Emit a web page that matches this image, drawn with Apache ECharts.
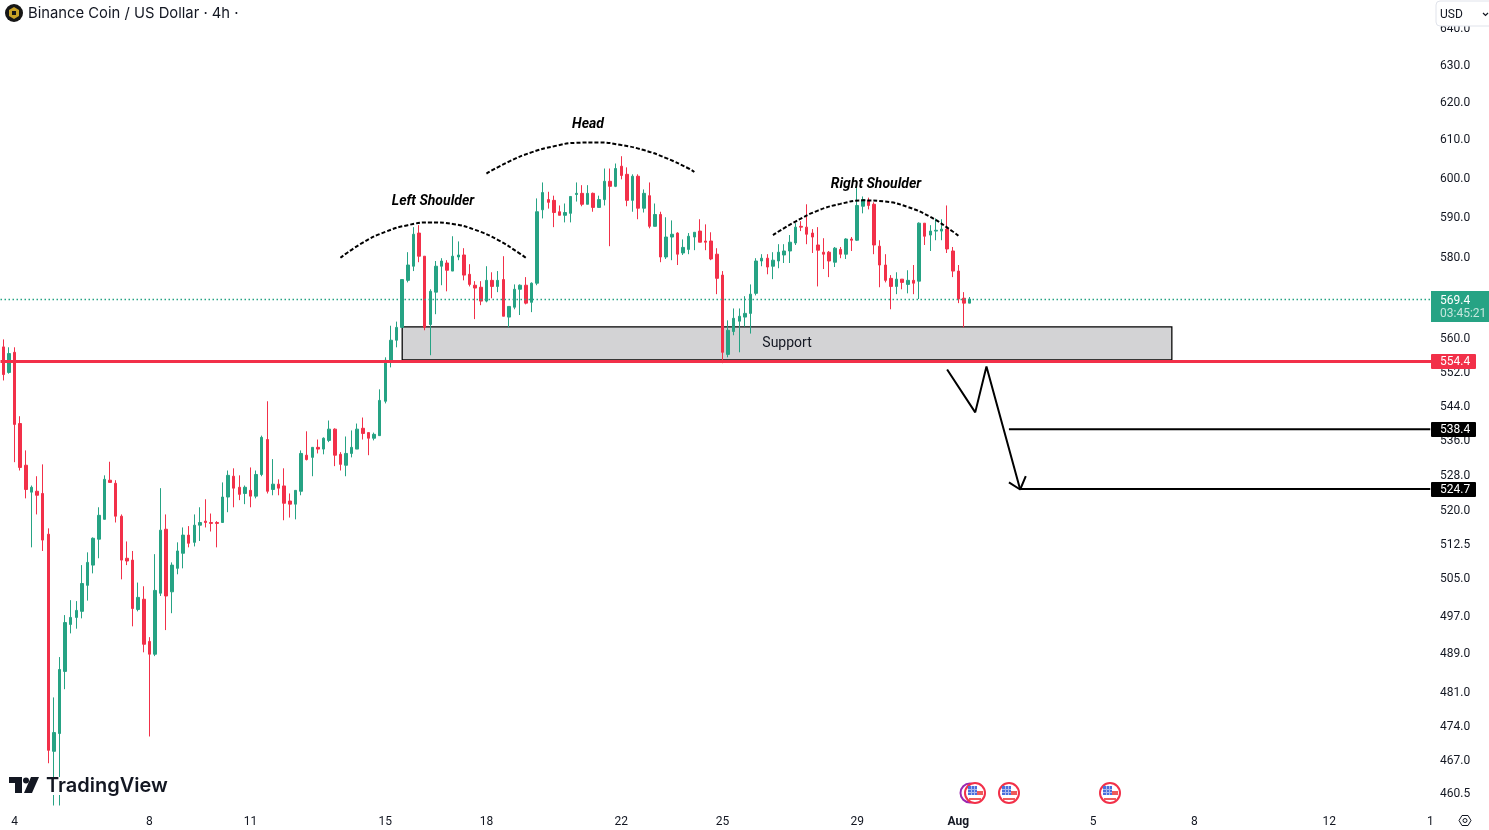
<!DOCTYPE html>
<html>
<head>
<meta charset="utf-8">
<title>Binance Coin / US Dollar</title>
<style>
  html, body { margin: 0; padding: 0; background: #fff; }
  #chart { width: 1489px; height: 830px; }
</style>
<script src="https://cdn.jsdelivr.net/npm/echarts@6/dist/echarts.min.js"></script>
</head>
<body>
<div id="chart"></div>
<script>
  // 4h candles
  var opens = [
    557.8,551.7,556.5,539.7,530.1,524.0,524.2,523.7,514.6,468.7,
    472.3,485.1,495.0,496.5,497.8,503.4,507.8,513.5,517.9,526.7,
    526.0,518.6,509.3,508.9,498.2,500.4,491.4,488.7,501.7,515.7,
    502.0,507.1,510.4,514.4,512.8,516.6,517.5,517.2,517.2,517.2,
    522.9,527.6,525.1,523.7,524.4,523.1,528.0,536.0,524.6,525.8,
    525.4,522.0,521.3,524.2,532.4,531.9,534.2,533.8,535.8,538.4,
    532.6,530.1,532.8,533.8,538.6,537.6,536.3,536.9,544.9,554.1,
    559.4,562.5,574.0,577.5,585.8,580.0,563.2,571.1,577.5,578.3,
    576.3,579.8,580.3,575.5,572.8,572.3,568.9,574.0,572.5,574.2,
    565.0,567.4,571.8,572.8,568.6,573.3,591.7,594.3,594.1,591.2,
    590.3,590.8,595.6,595.9,593.1,595.9,592.3,594.3,599.0,597.7,
    602.9,600.8,594.1,600.3,592.1,595.3,587.5,590.5,579.8,584.8,
    585.8,580.8,581.7,584.8,586.3,583.8,583.8,580.5,575.3,556.0,
    561.5,564.0,565.0,565.9,570.8,578.8,579.5,577.5,578.8,580.3,
    581.3,583.3,587.5,587.3,585.8,582.8,581.0,581.0,578.5,581.7,
    580.5,584.3,584.0,592.6,594.1,593.1,582.5,577.8,574.5,572.5,
    574.3,573.0,574.0,573.8,588.3,585.3,586.3,586.3,586.8,581.3,
    576.3,569.6,568.4
  ];
  var closes = [
    551.2,556.2,539.5,529.6,524.6,525.1,523.3,513.3,468.9,472.5,
    485.5,495.4,496.5,498.0,503.8,508.4,513.7,518.8,526.9,526.2,
    518.6,508.9,508.7,498.4,500.8,490.8,488.7,502.3,515.5,501.1,
    507.8,510.9,514.4,512.6,516.6,517.2,517.2,517.0,517.0,522.9,
    527.8,524.9,523.5,525.1,523.1,528.0,536.5,524.2,525.8,524.9,
    521.5,521.3,524.4,532.8,531.4,534.2,533.8,536.3,538.4,532.4,
    530.3,532.8,534.2,538.4,537.4,536.3,537.2,545.1,554.6,559.4,
    562.5,574.2,577.8,585.5,580.0,562.5,571.3,577.5,578.8,576.5,
    580.0,580.3,575.3,573.0,572.1,568.9,574.0,572.5,574.0,565.2,
    567.6,571.8,572.8,568.4,573.3,591.2,596.1,593.6,591.0,590.3,
    591.0,595.1,595.9,593.1,595.9,592.3,594.3,599.0,597.7,602.3,
    600.5,594.1,600.3,592.1,595.9,587.5,590.5,579.8,584.8,585.5,
    580.5,582.2,585.0,586.0,583.5,583.5,579.3,574.5,556.5,561.8,
    564.7,565.2,565.9,570.6,578.8,579.5,577.3,579.0,581.0,581.3,
    583.5,587.3,587.3,585.5,584.8,581.5,580.5,578.8,582.0,580.5,
    584.3,584.0,592.8,594.3,592.8,582.8,577.8,574.0,572.5,574.3,
    573.5,574.0,573.3,588.3,585.0,586.3,586.5,586.8,581.8,576.3,
    569.4,568.4,569.4
  ];
  var lows = [
    549.8,551.4,530.8,528.9,522.6,511.7,519.0,510.9,466.3,457.9,
    457.9,481.4,493.1,494.1,496.3,500.1,506.0,509.3,517.9,526.2,
    517.2,504.7,507.8,494.6,497.8,489.1,471.7,488.3,501.1,493.8,
    497.4,505.8,507.1,511.7,511.9,513.1,516.1,515.2,511.7,517.2,
    519.5,520.6,522.2,521.3,520.6,522.6,527.6,523.7,523.3,523.3,
    517.7,518.3,517.9,523.3,531.2,527.6,532.8,532.6,535.4,529.9,
    528.9,527.6,531.9,533.8,536.0,532.4,535.8,536.9,544.4,552.9,
    557.7,562.5,573.5,576.3,578.5,561.8,555.8,565.7,572.8,571.3,
    576.3,579.0,574.0,572.5,564.5,567.9,568.6,569.6,571.1,565.2,
    562.5,566.9,565.5,568.1,566.2,572.8,589.5,592.0,587.3,590.3,
    588.5,588.5,593.8,592.6,593.1,591.2,592.3,592.8,582.5,597.5,
    599.5,592.6,591.2,589.3,591.0,587.0,587.5,578.5,579.3,579.0,
    577.8,580.3,580.5,581.5,583.5,581.5,579.0,570.6,553.9,555.3,
    560.6,556.5,562.7,561.0,570.3,577.5,575.5,574.3,577.0,578.3,
    578.3,582.8,586.3,583.0,580.8,572.5,576.8,574.8,577.3,579.5,
    579.3,581.3,583.8,590.8,591.8,580.5,572.3,573.5,566.9,570.6,
    571.8,570.8,570.6,569.4,582.8,581.3,584.0,584.0,580.8,574.8,
    568.4,562.5,568.4
  ];
  var highs = [
    559.6,557.7,557.7,541.4,533.5,525.5,527.6,530.3,515.9,479.7,
    488.1,497.0,500.2,500.0,507.8,510.6,513.9,520.6,527.8,530.9,
    526.7,519.0,513.0,510.9,504.0,503.2,492.3,510.2,524.9,519.0,
    508.4,512.8,516.1,516.4,519.0,520.6,522.4,519.2,517.5,526.2,
    528.9,529.4,527.8,525.5,529.6,528.9,536.9,544.9,531.5,526.9,
    529.4,523.7,524.4,533.5,537.9,534.2,536.0,536.5,540.4,538.6,
    533.1,536.7,538.1,539.7,541.1,537.6,537.6,547.7,555.3,562.9,
    563.9,574.3,581.0,587.3,587.8,580.0,571.8,578.8,579.5,579.0,
    585.0,583.7,582.0,578.0,573.8,573.8,577.5,576.0,576.3,580.0,
    567.6,573.0,573.0,574.8,573.5,594.6,598.7,596.3,595.3,592.8,
    593.3,595.1,598.7,598.0,598.0,596.1,595.3,602.3,602.3,603.6,
    605.5,602.6,600.8,600.8,596.9,598.7,593.3,591.2,589.8,589.0,
    586.0,584.2,585.8,586.0,589.3,588.0,586.0,582.0,576.3,564.2,
    567.1,567.1,570.1,573.0,579.5,580.5,580.5,581.0,583.0,583.0,
    585.3,588.3,588.8,593.1,586.8,587.3,584.5,581.3,582.3,582.3,
    584.5,584.8,597.5,595.1,594.8,593.6,584.0,580.5,575.3,576.0,
    574.3,576.5,577.8,588.5,588.3,587.8,589.5,589.3,592.8,582.3,
    577.8,571.1,569.9
  ];

  var tickIndex = [2, 26, 44, 68, 86, 110, 128, 152, 170, 194, 212, 236, 254];
  var tickLabels = ['4', '8', '11', '15', '18', '22', '25', '29', 'Aug', '5', '8', '12', '1'];
  var priceTicks = [640, 630, 620, 610, 600, 590, 580, 560, 552, 544, 536, 528, 520, 512.5, 505, 497, 489, 481, 474, 467, 460.5];
  var slotCount = 255;

  var lastPrice = 569.4;
  var supportLine = 554.4;
  var target1 = 538.4;
  var target2 = 524.7;
  var supportTop = 562.6;
  var supportBottom = 554.7;
  var supportFrom = 71;
  var supportTo = 208;

  // hand drawn arcs and the arrow, as [candle slot, price]
  var leftShoulderX = [60, 64, 68, 72, 76, 80, 84, 88, 92, 93];
  var leftShoulderY = [579.6, 583.4, 586.1, 587.8, 588.5, 588.1, 586.6, 584.1, 580.6, 579.6];
  var headX = [86, 90, 94, 98, 102, 106, 110, 114, 118, 122, 123];
  var headY = [601, 604.1, 606.5, 608.1, 609, 609.1, 608.4, 607.1, 605, 602.3, 601.4];
  var rightShoulderX = [137, 141, 145, 149, 153, 157, 161, 165, 169, 170];
  var rightShoulderY = [585.3, 588.7, 591.5, 593.2, 594.1, 593.8, 592.4, 589.9, 586.2, 585.1];
  var arrowX = [168, 173, 175, 181];
  var arrowY = [552.4, 542.3, 553.1, 524.6];
  var arrowHeadX = [179, 181, 182];
  var arrowHeadY = [526.2, 524.6, 527.6];

  var categories = [];
  for (var i = 0; i < slotCount; i++) categories.push(String(i));

  var candles = opens.map(function (o, k) {
    return [o, closes[k], lows[k], highs[k]];
  });

  function zip(xs, ys) {
    return xs.map(function (x, k) { return [x, ys[k]]; });
  }

  function drawn(points, width, dash, smooth) {
    return {
      type: 'line',
      data: points,
      smooth: smooth,
      showSymbol: false,
      silent: true,
      z: 6,
      lineStyle: { color: '#000', width: width, type: dash || 'solid', cap: 'butt' }
    };
  }

  var chart = echarts.init(document.getElementById('chart'));

  chart.setOption({
    animation: false,
    backgroundColor: '#fff',
    textStyle: { fontFamily: 'Roboto' },
    grid: { left: 0.5, top: 0, width: slotCount * 5.618, height: 806 },
    xAxis: {
      type: 'category',
      data: categories,
      boundaryGap: true,
      axisLine: { show: false },
      axisTick: { show: false },
      splitLine: { show: false },
      axisLabel: {
        interval: 0,
        margin: 10,
        fontSize: 12,
        color: '#131722',
        formatter: function (v) {
          var k = tickIndex.indexOf(Number(v));
          if (k < 0) return '';
          return tickLabels[k] === 'Aug' ? '{b|Aug}' : tickLabels[k];
        },
        rich: { b: { fontWeight: 'bold', fontSize: 12, color: '#131722' } }
      }
    },
    yAxis: {
      type: 'log',
      logBase: Math.E,
      position: 'right',
      min: 457.8,
      max: 647.6,
      axisLine: { show: false },
      axisTick: { show: false },
      splitLine: { show: false },
      axisLabel: {
        customValues: priceTicks,
        margin: 7,
        fontSize: 12,
        color: '#131722',
        formatter: function (v) { return '{t|' + Number(v).toFixed(1) + '}'; },
        rich: { t: { fontSize: 12, color: '#131722', padding: [3, 0, 0, 0] } }
      }
    },
    series: [
      {
        type: 'candlestick',
        data: candles,
        barWidth: 3,
        z: 3,
        itemStyle: {
          color: '#26a384',
          color0: '#f23049',
          borderColor: '#26a384',
          borderColor0: '#f23049',
          borderWidth: 1
        },
        markArea: {
          silent: true,
          z: 1,
          itemStyle: { color: '#d3d3d5', borderColor: '#000', borderWidth: 1.25 },
          label: {
            show: true,
            position: 'inside',
            color: '#131722',
            fontSize: 14,
            formatter: 'Support'
          },
          data: [[{ coord: [supportFrom, supportTop] }, { coord: [supportTo, supportBottom] }]]
        }
      },
      {
        type: 'line',
        data: [],
        silent: true,
        z: 5,
        markLine: {
          silent: true,
          symbol: 'none',
          label: { show: false },
          data: [
            { yAxis: lastPrice, lineStyle: { color: '#26a384', width: 1.4, type: [1.5, 2.5] } },
            { yAxis: supportLine, lineStyle: { color: '#f23049', width: 3, type: 'solid' } }
          ]
        }
      },
      drawn(zip(leftShoulderX, leftShoulderY), 2, [4, 2], true),
      drawn(zip(headX, headY), 2, [4, 2], true),
      drawn(zip(rightShoulderX, rightShoulderY), 2, [4, 2], true),
      drawn(zip(arrowX, arrowY), 2, null, false),
      drawn(zip(arrowHeadX, arrowHeadY), 2, null, false),
      drawn([[179, target1], [slotCount - 1, target1]], 2, null, false),
      drawn([[181, target2], [slotCount - 1, target2]], 2, null, false)
    ]
  });

  // price tags sit on the scale at the price they belong to
  function priceY(p) {
    return chart.convertToPixel({ yAxisIndex: 0 }, p);
  }

  function tag(price, color) {
    var y = Math.round(priceY(price));
    return [
      { type: 'rect', z: 20, shape: { x: 1431, y: y - 7, width: 45, height: 15, r: 1 }, style: { fill: color } },
      { type: 'text', z: 21, style: { x: 1440, y: y + 1, text: price.toFixed(1), fill: '#fff', font: '12px Roboto', textVerticalAlign: 'middle' } }
    ];
  }

  function flag(cx) {
    var cy = 793;
    return [
      { type: 'circle', z: 12, shape: { cx: cx, cy: cy, r: 10 }, style: { fill: '#fff', stroke: '#f23049', lineWidth: 2 } },
      { type: 'rect', z: 13, shape: { x: cx + 1, y: cy - 2, width: 7, height: 4 }, style: { fill: '#ef5a5a' } },
      { type: 'rect', z: 13, shape: { x: cx - 6, y: cy + 5, width: 12, height: 2 }, style: { fill: '#ef5a5a' } },
      { type: 'rect', z: 13, shape: { x: cx - 7, y: cy - 7, width: 9, height: 9 }, style: { fill: '#4a6fdc' } },
      { type: 'rect', z: 14, shape: { x: cx - 4, y: cy - 7, width: 1, height: 9 }, style: { fill: '#aab9ee' } },
      { type: 'rect', z: 14, shape: { x: cx - 1, y: cy - 7, width: 1, height: 9 }, style: { fill: '#aab9ee' } },
      { type: 'rect', z: 14, shape: { x: cx - 7, y: cy - 4, width: 9, height: 1 }, style: { fill: '#aab9ee' } },
      { type: 'rect', z: 14, shape: { x: cx - 7, y: cy - 1, width: 9, height: 1 }, style: { fill: '#aab9ee' } }
    ];
  }

  var lastY = Math.round(priceY(lastPrice));
  var items = [
    // header
    { type: 'circle', z: 20, shape: { cx: 14, cy: 13, r: 9 }, style: { fill: '#161616' } },
    { type: 'polygon', z: 21, shape: { points: [[14, 7], [19, 10], [19, 16], [14, 19], [9, 16], [9, 10]] }, style: { fill: '#c9a227' } },
    { type: 'rect', z: 22, shape: { x: 12, y: 11, width: 4, height: 4 }, style: { fill: '#161616' } },
    { type: 'text', z: 20, style: { x: 28, y: 14, text: 'Binance Coin / US Dollar \u00b7 4h \u00b7', fill: '#131722', font: '14.8px Inter', textVerticalAlign: 'middle' } },
    // currency button
    { type: 'rect', z: 20, shape: { x: 1436, y: 1, width: 60, height: 25, r: 4 }, style: { fill: '#fff', stroke: '#e0e3eb', lineWidth: 1 } },
    { type: 'text', z: 21, style: { x: 1440, y: 15, text: 'USD', fill: '#131722', font: '12px Roboto', textVerticalAlign: 'middle' } },
    { type: 'polyline', z: 21, shape: { points: [[1483, 13], [1485.5, 15.5], [1488, 13]] }, style: { stroke: '#131722', fill: 'none', lineWidth: 1.2 } },
    // annotations
    { type: 'text', z: 20, style: { x: 433, y: 201, text: 'Left Shoulder', fill: '#000', font: 'italic bold 14px Roboto', textAlign: 'center', textVerticalAlign: 'middle' } },
    { type: 'text', z: 20, style: { x: 588, y: 124, text: 'Head', fill: '#000', font: 'italic bold 14px Roboto', textAlign: 'center', textVerticalAlign: 'middle' } },
    { type: 'text', z: 20, style: { x: 876, y: 184, text: 'Right Shoulder', fill: '#000', font: 'italic bold 14px Roboto', textAlign: 'center', textVerticalAlign: 'middle' } },
    // last price
    { type: 'rect', z: 20, shape: { x: 1431, y: lastY - 8, width: 58, height: 31 }, style: { fill: '#26a384' } },
    { type: 'text', z: 21, style: { x: 1440, y: lastY + 2, text: lastPrice.toFixed(1), fill: '#fff', font: '12px Roboto', textVerticalAlign: 'middle' } },
    { type: 'text', z: 21, style: { x: 1440, y: lastY + 15, text: '03:45:21', fill: '#c4e6dd', font: '12px Roboto', textVerticalAlign: 'middle' } },
    // watermark
    { type: 'rect', z: 10, shape: { x: 44, y: 777, width: 125, height: 18 }, style: { fill: '#fff' } },
    { type: 'polygon', z: 11, shape: { points: [[9, 777], [22, 777], [22, 793], [15, 793], [15, 783], [9, 783]] }, style: { fill: '#131722' } },
    { type: 'circle', z: 11, shape: { cx: 26, cy: 780.5, r: 3 }, style: { fill: '#131722' } },
    { type: 'polygon', z: 11, shape: { points: [[31, 777], [39, 777], [32, 793], [24, 793]] }, style: { fill: '#131722' } },
    { type: 'text', z: 11, style: { x: 46, y: 786, text: 'TradingView', fill: '#131722', font: '600 20px Inter', textVerticalAlign: 'middle' } },
    // events
    { type: 'circle', z: 11, shape: { cx: 970, cy: 793, r: 9.5 }, style: { fill: '#fff', stroke: '#9c27b0', lineWidth: 2 } },
    // settings
    { type: 'polygon', z: 20, shape: { points: [[1459, 820.5], [1462, 815.5], [1468, 815.5], [1471, 820.5], [1468, 825.5], [1462, 825.5]] }, style: { fill: '#fff', stroke: '#131722', lineWidth: 1 } },
    { type: 'circle', z: 21, shape: { cx: 1465, cy: 820.5, r: 2 }, style: { fill: '#fff', stroke: '#131722', lineWidth: 1 } }
  ];
  items = items
    .concat(flag(975), flag(1009), flag(1110))
    .concat(tag(supportLine, '#f23049'), tag(target1, '#000'), tag(target2, '#000'));

  chart.setOption({ graphic: { elements: items } });
</script>
</body>
</html>
